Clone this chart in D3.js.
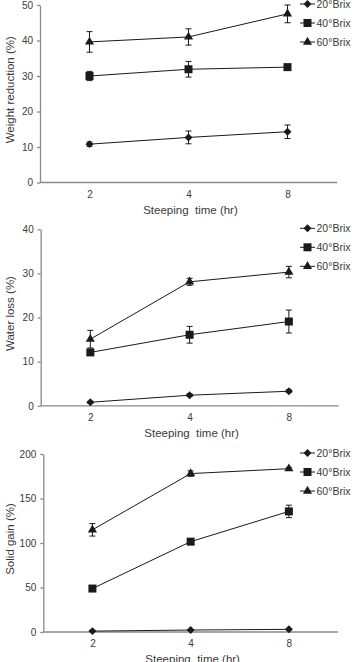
<!DOCTYPE html>
<html>
<head>
<meta charset="utf-8">
<script src="https://cdn.jsdelivr.net/npm/d3@7"></script>
<style>
  body { margin: 0; background: #fff; }
  svg { display: block; font-family: "Liberation Sans", Arial, sans-serif; }
</style>
</head>
<body>
<div id="chart"></div>
<script>
// data
var times = ["2", "4", "8"];
var series = ["20°Brix", "40°Brix", "60°Brix"];

var weightMean = [[10.8, 12.7, 14.3], [30.0, 31.9, 32.5], [39.6, 41.0, 47.5]];
var weightErr  = [[0.6, 1.8, 1.9], [1.3, 2.2, 0.5], [2.9, 2.3, 2.5]];

var waterMean = [[0.8, 2.4, 3.3], [12.1, 16.1, 19.1], [15.1, 28.1, 30.3]];
var waterErr  = [[0.2, 0.3, 0.3], [0.6, 1.9, 2.6], [2.0, 0.8, 1.3]];

var solidMean = [[1.0, 2.2, 3.0], [48.8, 101.5, 135.5], [114.8, 178.0, 183.5]];
var solidErr  = [[0.5, 0.5, 0.5], [1.0, 1.5, 7.0], [7.0, 3.0, 1.5]];

var weightTicks = [0, 10, 20, 30, 40, 50];
var waterTicks = [0, 10, 20, 30, 40];
var solidTicks = [0, 50, 100, 150, 200];

var W = 352, H = 662;
var svg = d3.select("#chart").append("svg")
    .attr("width", W)
    .attr("height", H);

var shapes = [d3.symbolDiamond2, d3.symbolSquare, d3.symbolTriangle];
var sizes = [40, 64, 36];
var textCol = "#3a3a3a", axisCol = "#8a8a8a", lineCol = "#1a1a1a";

function drawPanel(p) {
  var g = svg.append("g");

  var x = d3.scalePoint()
      .domain(times)
      .range([p.left, p.right])
      .padding(0.5);
  var y = d3.scaleLinear()
      .domain([0, d3.max(p.ticks)])
      .range([p.bottom, p.top]);

  // y axis
  var ya = g.append("g")
      .attr("transform", "translate(" + p.left + ",0)")
      .call(d3.axisLeft(y).tickValues(p.ticks).tickSize(3).tickPadding(4).tickSizeOuter(0));
  ya.select(".domain").attr("stroke", axisCol).attr("stroke-width", 1.3);
  ya.selectAll(".tick line").attr("stroke", axisCol).attr("stroke-width", 1.3);
  ya.selectAll("text").attr("fill", textCol).style("font-size", "10px");

  // x axis
  var xa = g.append("g")
      .attr("transform", "translate(0," + p.bottom + ")")
      .call(d3.axisBottom(x).tickSize(0).tickPadding(8).tickSizeOuter(0));
  xa.select(".domain").attr("stroke", axisCol).attr("stroke-width", 1.3)
      .attr("d", "M" + p.left + ",0H" + p.right);
  xa.selectAll("text").attr("fill", textCol).style("font-size", "10px");

  // titles
  g.append("text")
      .attr("x", (p.left + p.right) / 2 + 2)
      .attr("y", p.bottom + 31)
      .attr("text-anchor", "middle")
      .attr("fill", textCol)
      .style("font-size", "11.5px")
      .style("white-space", "pre")
      .text("Steeping  time (hr)");

  g.append("text")
      .attr("transform", "translate(" + 14 + "," + ((p.top + p.bottom) / 2 - 4) + ") rotate(-90)")
      .attr("text-anchor", "middle")
      .attr("fill", textCol)
      .style("font-size", "11.5px")
      .text(p.ylabel);

  var line = d3.line()
      .x(function(d, i) { return x(times[i]); })
      .y(function(d) { return y(d); });

  series.forEach(function(s, k) {
    // connecting line
    g.append("path")
        .datum(p.mean[k])
        .attr("d", line)
        .attr("fill", "none")
        .attr("stroke", lineCol)
        .attr("stroke-width", 1);

    // error bars
    var eb = g.append("g").selectAll("g")
        .data(p.mean[k])
        .enter().append("g")
        .attr("stroke", lineCol)
        .attr("stroke-width", 1);
    eb.append("line")
        .attr("x1", function(d, i) { return x(times[i]); })
        .attr("x2", function(d, i) { return x(times[i]); })
        .attr("y1", function(d, i) { return y(d - p.err[k][i]); })
        .attr("y2", function(d, i) { return y(d + p.err[k][i]); });
    [-1, 1].forEach(function(sg) {
      eb.append("line")
          .attr("x1", function(d, i) { return x(times[i]) - 3; })
          .attr("x2", function(d, i) { return x(times[i]) + 3; })
          .attr("y1", function(d, i) { return y(d + sg * p.err[k][i]); })
          .attr("y2", function(d, i) { return y(d + sg * p.err[k][i]); });
    });

    // markers
    g.append("g").selectAll("path")
        .data(p.mean[k])
        .enter().append("path")
        .attr("d", d3.symbol().type(shapes[k]).size(sizes[k]))
        .attr("transform", function(d, i) { return "translate(" + x(times[i]) + "," + y(d) + ")"; })
        .attr("fill", lineCol);

    // legend
    var ly = p.top - 1 + k * 19;
    g.append("line")
        .attr("x1", 300).attr("x2", 315)
        .attr("y1", ly).attr("y2", ly)
        .attr("stroke", lineCol).attr("stroke-width", 1);
    g.append("path")
        .attr("d", d3.symbol().type(shapes[k]).size(sizes[k]))
        .attr("transform", "translate(307.5," + ly + ")")
        .attr("fill", lineCol);
    g.append("text")
        .attr("x", 316.5)
        .attr("y", ly)
        .attr("dy", "0.35em")
        .attr("fill", textCol)
        .style("font-size", "10.5px")
        .text(s);
  });
}

drawPanel({ top: 5, bottom: 182.5, left: 40, right: 337, ticks: weightTicks,
  ylabel: "Weight reduction (%)", mean: weightMean, err: weightErr });
drawPanel({ top: 229.3, bottom: 405.8, left: 40.7, right: 338.5, ticks: waterTicks,
  ylabel: "Water loss (%)", mean: waterMean, err: waterErr });
drawPanel({ top: 454, bottom: 632, left: 43.3, right: 338, ticks: solidTicks,
  ylabel: "Solid gain (%)", mean: solidMean, err: solidErr });
</script>
</body>
</html>
